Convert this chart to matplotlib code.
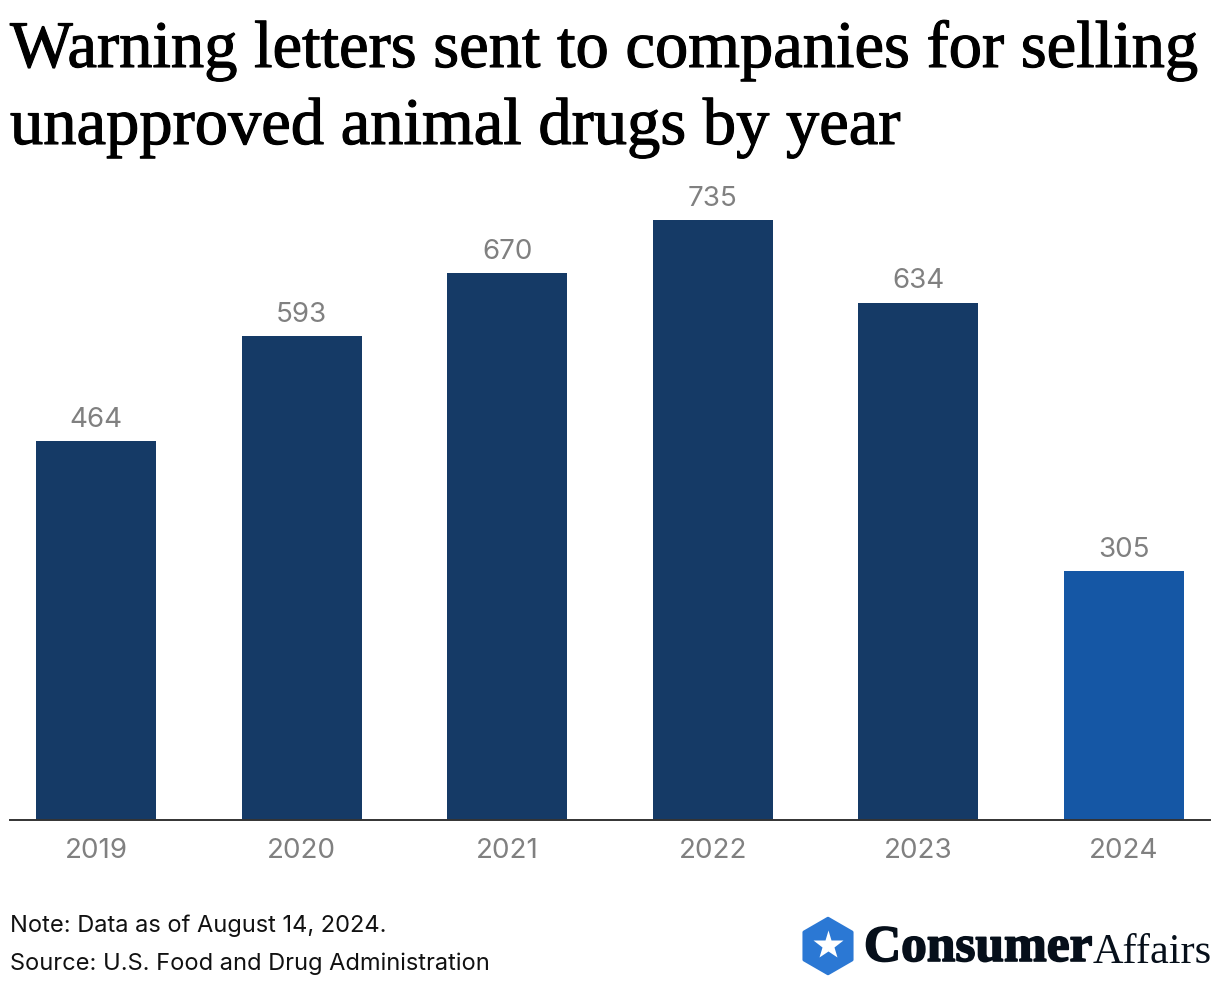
#!/usr/bin/env python3
"""Warning letters bar chart, ConsumerAffairs style."""
import matplotlib
matplotlib.use("Agg")
import matplotlib.patheffects as pe
import matplotlib.pyplot as plt
from matplotlib.patches import RegularPolygon

W, H = 1220, 986

years = ["2019", "2020", "2021", "2022", "2023", "2024"]
letters = [464, 593, 670, 735, 634, 305]

NAVY = "#153A66"
BLUE = "#1557A5"
GRAY = "#808080"
LOGO_BLUE = "#2B78D4"
INK = "#060F1A"

plt.rcParams["font.family"] = ["Inter", "DejaVu Sans"]


def fx(px):
    return px / W


def fy(py):
    return 1 - py / H


def main():
    fig = plt.figure(figsize=(W / 100, H / 100), dpi=100, facecolor="white")
    ax = fig.add_axes([fx(10), fy(820), 1200 / W, 630 / H])

    colors = [NAVY] * 5 + [BLUE]
    pos = list(range(len(years)))
    bars = ax.bar(pos, letters, width=0.584, color=colors)
    ax.bar_label(bars, labels=[str(v) for v in letters], padding=6,
                 fontsize=20, color=GRAY)

    ax.set_xlim(-0.418, 5.418)
    ax.set_ylim(0, 772)
    ax.set_xticks(pos)
    ax.set_xticklabels(years, fontsize=20, color=GRAY)
    ax.tick_params(axis="x", length=0, pad=13)
    ax.set_yticks([])
    for s in ("top", "left", "right"):
        ax.spines[s].set_visible(False)
    ax.spines["bottom"].set_color("#333333")
    ax.spines["bottom"].set_linewidth(1.4)

    # stroke thickens the regular serif towards the display weight
    heavy = [pe.withStroke(linewidth=0.8, foreground="black")]
    title_kw = dict(family="Liberation Serif", fontsize=47.9, color="black",
                    va="baseline", ha="left", path_effects=heavy)
    fig.text(fx(10), fy(67), "Warning letters sent to companies for selling", **title_kw)
    fig.text(fx(10), fy(144), "unapproved animal drugs by year", **title_kw)

    fig.text(fx(10), fy(932), "Note: Data as of August 14, 2024.", fontsize=17,
             color="#111111", va="baseline")
    fig.text(fx(10), fy(970), "Source: U.S. Food and Drug Administration", fontsize=17,
             color="#111111", va="baseline")

    # logo, drawn in pixel coordinates over the whole figure
    over = fig.add_axes([0, 0, 1, 1], facecolor="none")
    over.set_xlim(0, W)
    over.set_ylim(H, 0)
    over.axis("off")
    over.add_patch(RegularPolygon((828, 946), 6, radius=27.5, facecolor=LOGO_BLUE,
                                  edgecolor=LOGO_BLUE, linewidth=2.5,
                                  joinstyle="round"))
    over.plot([828], [945], marker="*", markersize=22, color="white", mec="none")
    t = over.text(864, 961, "Consumer", family="Liberation Serif", weight="bold",
                  fontsize=37, color=INK, va="baseline",
                  path_effects=[pe.withStroke(linewidth=1.2, foreground=INK)])
    over.annotate("Affairs", xy=(1, 0), xycoords=t, family="Liberation Serif",
                  fontsize=30.5, color=INK, va="bottom")

    fig.savefig("out.png", dpi=100)
    plt.close(fig)


if __name__ == "__main__":
    main()
